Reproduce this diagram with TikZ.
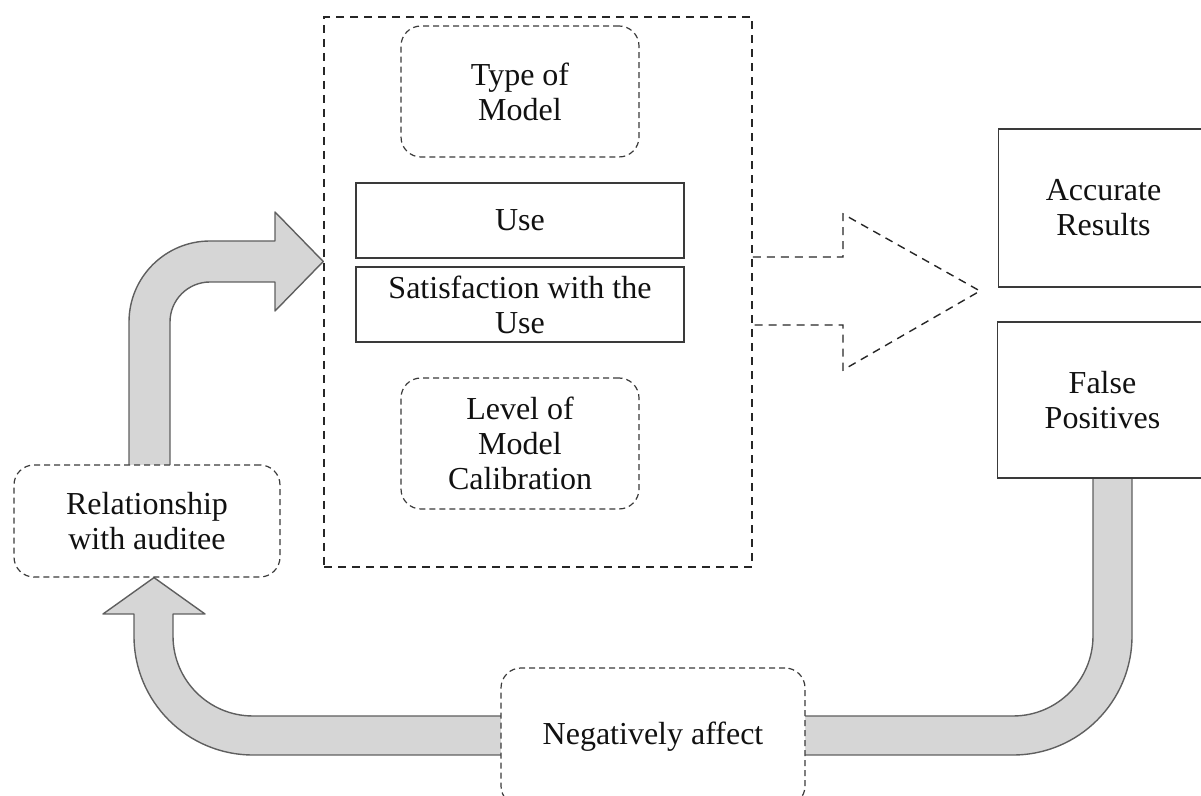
\documentclass[tikz,border=0pt]{standalone}
\usepackage{fontspec}
\setmainfont{Liberation Serif}
\usetikzlibrary{backgrounds,calc}

\definecolor{flowfill}{HTML}{D6D6D6}
\definecolor{flowline}{HTML}{5F5F5F}
\definecolor{boxline}{HTML}{3A3A3A}
\definecolor{txt}{HTML}{111111}

\begin{document}
\begin{tikzpicture}[x=0.5pt,y=-0.5pt,
  every node/.style={font=\fontsize{16}{17.5}\selectfont, text=txt, align=center, inner sep=0pt},
  solidbox/.style={draw=boxline, line width=0.7pt, fill=white},
  softbox/.style={draw=boxline, line width=0.6pt, dash pattern=on 3pt off 2pt, rounded corners=10pt, fill=white},
  groupbox/.style={draw=black!85, line width=0.75pt, dash pattern=on 4pt off 3pt},
  flow/.style={draw=flowline, fill=flowfill, line width=0.7pt, line join=round},
  outarrow/.style={draw=black!85, line width=0.7pt, dash pattern=on 4pt off 3pt}]

\useasboundingbox (0,0) rectangle (1201,796);

% group of model factors
\node[groupbox, minimum width=214pt, minimum height=275pt] (group) at (538,292) {};
\node[softbox, minimum width=119pt, minimum height=65.5pt] (type) at (520,91.5) {Type of\\Model};
\node[solidbox, minimum width=164pt, minimum height=37.5pt] (use) at (520,220.5) {Use};
\node[solidbox, minimum width=164pt, minimum height=37.5pt] (sat) at (520,304.5) {Satisfaction with the\\Use};
\node[softbox, minimum width=119pt, minimum height=65.5pt] (level) at (520,443.5) {Level of\\Model\\Calibration};

% outcomes
\node[solidbox, minimum width=105pt, minimum height=79pt] (acc) at (1103.5,208) {Accurate\\Results};
\node[solidbox, minimum width=105pt, minimum height=78pt] (fp) at (1102.5,400) {False\\Positives};

% feedback loop
\node[softbox, minimum width=133pt, minimum height=56pt] (rel) at (147,521) {Relationship\\with auditee};
\node[softbox, minimum width=152pt, minimum height=69pt] (neg) at (653,737) {Negatively affect};

% open dashed arrow from the group to the outcomes
\draw[outarrow] (group.east |- 0,257) -- (843,257) -- (843,214) -- (980,291)
  -- (843,370) -- (843,325) -- (group.east |- 0,325);

\begin{scope}[on background layer]
  % relationship feeds the model factors
  \draw[flow] (129,521) -- (129,322) arc[start angle=180,end angle=270,radius=81]
    -- (275,241) -- (275,212) -- (group.west |- 0,261.5) -- (275,311) -- (275,282)
    -- (210,282) arc[start angle=270,end angle=180,radius=40] -- (170,521) -- cycle;
  % false positives lead to the negative effect
  \draw[flow] (1132,400) -- (1132,636) arc[start angle=0,end angle=90,radius=119]
    -- (653,755) -- (653,716) -- (1013,716) arc[start angle=90,end angle=0,radius=80]
    -- (1093,400) -- cycle;
  % negative effect returns to the relationship
  \draw[flow] (653,716) -- (253,716) arc[start angle=90,end angle=180,radius=80]
    -- (173,614) -- (205,614) -- (rel.south -| 154,0) -- (103,614) -- (134,614)
    -- (134,636) arc[start angle=180,end angle=90,radius=119] -- (653,755) -- cycle;
\end{scope}
\end{tikzpicture}
\end{document}
